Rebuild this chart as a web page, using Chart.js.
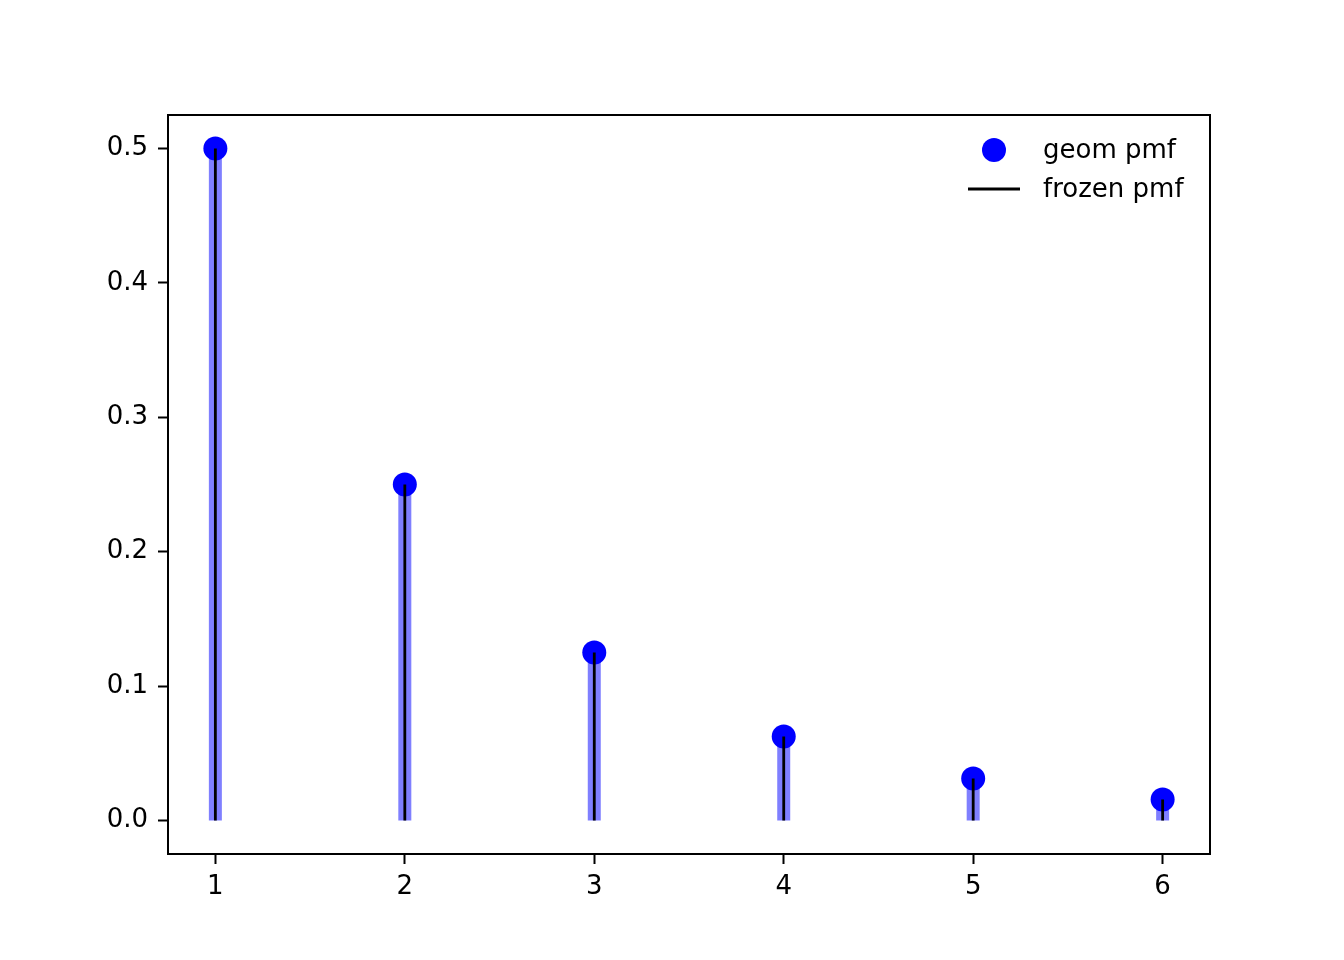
<!DOCTYPE html>
<html>
<head>
<meta charset="utf-8">
<title>geom pmf</title>
<script src="https://cdn.jsdelivr.net/npm/chart.js@4.4.1/dist/chart.umd.min.js"></script>
<style>
  html, body { margin: 0; padding: 0; background: #ffffff; }
  #wrap { width: 1344px; height: 960px; }
</style>
</head>
<body>
<div id="wrap"><canvas id="chart" width="1344" height="960"></canvas></div>
<script>
// geometric distribution, p = 0.5
const ks = [1, 2, 3, 4, 5, 6];
const pmf = [0.5, 0.25, 0.125, 0.0625, 0.03125, 0.015625];
const xTicks = [1, 2, 3, 4, 5, 6];
const yTicks = [0.0, 0.1, 0.2, 0.3, 0.4, 0.5];

const FONT = "'DejaVu Sans', sans-serif";

// vertical stems from 0 up to each value, broken by null gaps
function stems(xs, ys) {
    const out = [];
    xs.forEach((x, i) => {
        out.push({ x: x, y: 0 });
        out.push({ x: x, y: ys[i] });
        out.push({ x: x, y: null });
    });
    return out;
}

// axes frame + matplotlib-like legend in the upper right
const framePlugin = {
    id: 'frame',
    afterDatasetsDraw(chart) {
        const { ctx, chartArea: a } = chart;
        ctx.save();
        ctx.strokeStyle = '#000';
        ctx.lineWidth = 2;
        ctx.strokeRect(a.left, a.top, a.right - a.left, a.bottom - a.top);

        const markerSet = chart.data.datasets.find(d => d.id === 'points');
        const lineSet = chart.data.datasets.find(d => d.id === 'frozen');
        ctx.font = '26px ' + FONT;
        ctx.textBaseline = 'middle';
        ctx.fillStyle = '#000';

        const symX = a.right - 216;
        const textX = a.right - 167;
        const row1 = a.top + 35;
        const row2 = a.top + 74;

        ctx.beginPath();
        ctx.fillStyle = markerSet.backgroundColor;
        ctx.arc(symX, row1, 12, 0, Math.PI * 2);
        ctx.fill();
        ctx.fillStyle = '#000';
        ctx.fillText(markerSet.label, textX, row1 + 1);

        ctx.beginPath();
        ctx.strokeStyle = lineSet.borderColor;
        ctx.lineWidth = lineSet.borderWidth;
        ctx.moveTo(symX - 26, row2);
        ctx.lineTo(symX + 26, row2);
        ctx.stroke();
        ctx.fillText(lineSet.label, textX, row2 + 1);
        ctx.restore();
    }
};

new Chart(document.getElementById('chart'), {
    type: 'line',
    data: {
        datasets: [
            {
                id: 'frozen',
                label: 'frozen pmf',
                data: stems(ks, pmf),
                borderColor: '#000000',
                borderWidth: 2.8,
                pointRadius: 0,
                showLine: true,
                spanGaps: false,
                order: 0
            },
            {
                id: 'bands',
                label: '',
                data: stems(ks, pmf),
                borderColor: 'rgba(0, 0, 255, 0.5)',
                borderWidth: 13,
                pointRadius: 0,
                showLine: true,
                spanGaps: false,
                order: 1
            },
            {
                id: 'points',
                label: 'geom pmf',
                data: ks.map((k, i) => ({ x: k, y: pmf[i] })),
                showLine: false,
                pointRadius: 12,
                pointHoverRadius: 12,
                pointBorderWidth: 0,
                backgroundColor: '#0000ff',
                borderColor: '#0000ff',
                order: 2
            }
        ]
    },
    options: {
        responsive: false,
        animation: false,
        devicePixelRatio: 1,
        layout: { padding: { top: 115, right: 134, left: 0, bottom: 0 } },
        plugins: {
            legend: { display: false },
            tooltip: { enabled: false },
            title: { display: false }
        },
        scales: {
            x: {
                type: 'linear',
                min: 0.75,
                max: 6.25,
                afterBuildTicks: s => { s.ticks = xTicks.map(v => ({ value: v })); },
                afterFit: s => { s.height = 106; },
                border: { display: false },
                grid: {
                    drawOnChartArea: false,
                    drawTicks: true,
                    tickLength: 10,
                    tickWidth: 2,
                    tickColor: '#000'
                },
                ticks: {
                    color: '#000',
                    padding: 8,
                    font: { family: FONT, size: 26 },
                    maxRotation: 0,
                    callback: v => String(v)
                }
            },
            y: {
                type: 'linear',
                min: -0.025,
                max: 0.525,
                afterBuildTicks: s => { s.ticks = yTicks.map(v => ({ value: v })); },
                afterFit: s => { s.width = 168; },
                border: { display: false },
                grid: {
                    drawOnChartArea: false,
                    drawTicks: true,
                    tickLength: 10,
                    tickWidth: 2,
                    tickColor: '#000'
                },
                ticks: {
                    color: '#000',
                    padding: 10,
                    font: { family: FONT, size: 26 },
                    callback: v => Number(v).toFixed(1)
                }
            }
        }
    },
    plugins: [framePlugin]
});
</script>
</body>
</html>
